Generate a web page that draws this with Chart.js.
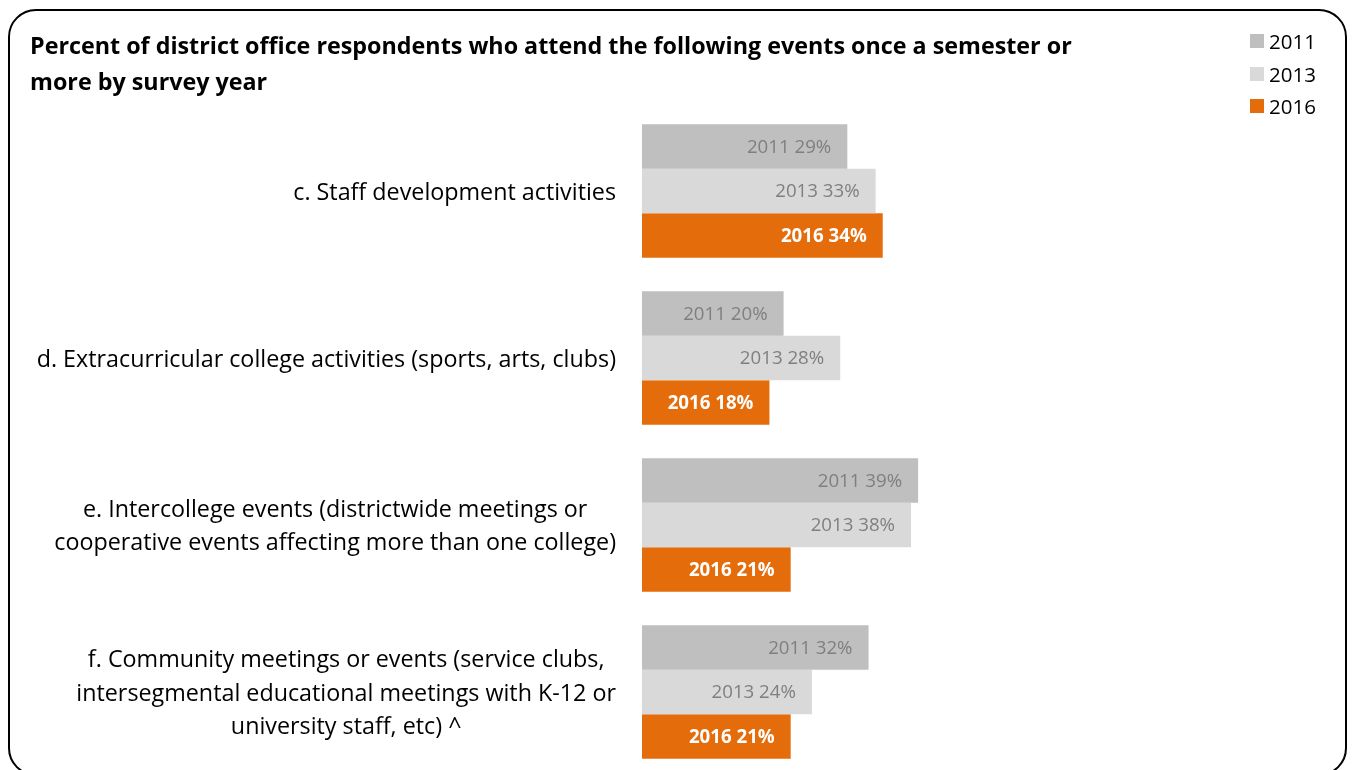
<!DOCTYPE html>
<html>
<head>
<meta charset="utf-8">
<title>District office event attendance</title>
<script src="https://cdn.jsdelivr.net/npm/chart.js@4.4.1/dist/chart.umd.min.js"></script>
<style>
  html, body { margin: 0; padding: 0; background: #ffffff; overflow: hidden; width: 1353px; height: 770px; }
  #wrap { position: relative; width: 1353px; height: 770px; overflow: hidden; }
  #chart { position: absolute; left: 0; top: 0; }
  #frame { position: absolute; left: 8px; top: 9px; width: 1339px; height: 767px; border: 2px solid #000; border-radius: 28px; box-sizing: border-box; pointer-events: none; }
  #legend { position: absolute; left: 1250px; top: 25px; font-family: "Open Sans", "Noto Sans", sans-serif; font-size: 20.5px; color: #000; }
  #legend .item { height: 32.5px; display: flex; align-items: center; }
  #legend .sw { width: 14px; height: 14px; margin-right: 5px; }
</style>
</head>
<body>
<div id="wrap">
  <canvas id="chart" width="1353" height="790"></canvas>
  <div id="legend"></div>
  <div id="frame"></div>
</div>
<script>
// Survey categories (multi-line labels) and percentages per survey year
const categories = [
  ['c. Staff development activities'],
  ['d. Extracurricular college activities (sports, arts, clubs)'],
  ['e. Intercollege events (districtwide meetings or', 'cooperative events affecting more than one college)'],
  ['f. Community meetings or events (service clubs,', 'intersegmental educational meetings with K-12 or', 'university staff, etc) ^']
];
const years = ['2011', '2013', '2016'];
const values2011 = [29, 20, 39, 32];
const values2013 = [33, 28, 38, 24];
const values2016 = [34, 18, 21, 21];
const titleLines = [
  'Percent of district office respondents who attend the following events once a semester or',
  'more by survey year'
];

const FONT = '"Open Sans", "Noto Sans", sans-serif';
const colors = ['#bfbfbf', '#d9d9d9', '#e46c0a'];
const labelColors = ['#7f7f7f', '#7f7f7f', '#ffffff'];
const labelWeights = ['normal', 'normal', 'bold'];
const seriesValues = [values2011, values2013, values2016];

const AREA_LEFT = 642;      // left edge of the plotting area
const PX_PER_PCT = 7.08;    // horizontal scale
const X_MAX = 90;

// Value labels drawn inside each bar, right-aligned near its end
const barLabels = {
  id: 'barLabels',
  afterDatasetsDraw(chart) {
    const ctx = chart.ctx;
    chart.data.datasets.forEach((ds, i) => {
      const meta = chart.getDatasetMeta(i);
      meta.data.forEach((bar, j) => {
        ctx.save();
        ctx.font = labelWeights[i] + ' 18.7px ' + FONT;
        ctx.fillStyle = labelColors[i];
        ctx.textAlign = 'right';
        ctx.textBaseline = 'middle';
        ctx.fillText(ds.label + ' ' + ds.data[j] + '%', bar.x - 16, bar.y + 1);
        ctx.restore();
      });
    });
  }
};

// Category labels: block right-aligned against the axis, lines centred within the block
const categoryLabels = {
  id: 'categoryLabels',
  afterDraw(chart) {
    const ctx = chart.ctx;
    const yScale = chart.scales.y;
    const right = chart.chartArea.left - 26;
    const lh = 33.5;
    ctx.save();
    ctx.font = '23.3px ' + FONT;
    ctx.fillStyle = '#000000';
    ctx.textAlign = 'center';
    ctx.textBaseline = 'middle';
    chart.data.labels.forEach((lines, i) => {
      const cy = yScale.getPixelForTick(i) + 2;
      const w = Math.max(...lines.map(l => ctx.measureText(l).width));
      const cx = right - w / 2;
      lines.forEach((l, k) => {
        ctx.fillText(l, cx, cy + (k - (lines.length - 1) / 2) * lh);
      });
    });
    ctx.restore();
  }
};

const chart = new Chart(document.getElementById('chart'), {
  type: 'bar',
  data: {
    labels: categories,
    datasets: years.map((y, i) => ({
      label: y,
      data: seriesValues[i],
      backgroundColor: colors[i],
      borderWidth: 0,
      categoryPercentage: 0.8,
      barPercentage: 1.0
    }))
  },
  options: {
    indexAxis: 'y',
    responsive: false,
    animation: false,
    devicePixelRatio: 1,
    layout: {
      padding: { left: 30, right: 1353 - AREA_LEFT - PX_PER_PCT * X_MAX, top: 0, bottom: 14.5 }
    },
    scales: {
      x: { display: false, min: 0, max: X_MAX },
      y: {
        grid: { display: false },
        border: { display: false },
        ticks: { display: false },
        afterFit(scale) { scale.width = AREA_LEFT - 30; }
      }
    },
    plugins: {
      legend: { display: false },
      tooltip: { enabled: false },
      title: {
        display: true,
        text: titleLines,
        align: 'start',
        color: '#000000',
        font: { family: FONT, size: 23.3, weight: 'bold', lineHeight: 1.545 },
        padding: { top: 29, bottom: 6.5 }
      }
    }
  },
  plugins: [barLabels, categoryLabels]
});

// Legend built from the chart's datasets
const legend = document.getElementById('legend');
chart.data.datasets.forEach(ds => {
  const item = document.createElement('div');
  item.className = 'item';
  const sw = document.createElement('span');
  sw.className = 'sw';
  sw.style.background = ds.backgroundColor;
  const tx = document.createElement('span');
  tx.textContent = ds.label;
  item.appendChild(sw);
  item.appendChild(tx);
  legend.appendChild(item);
});
</script>
</body>
</html>
